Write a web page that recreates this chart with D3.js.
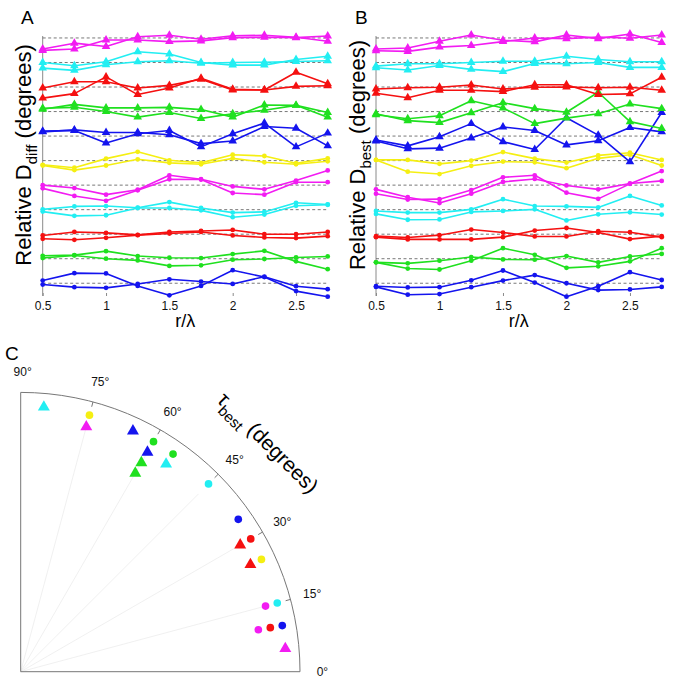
<!DOCTYPE html>
<html>
<head>
<meta charset="utf-8">
<script src="https://cdn.jsdelivr.net/npm/d3@7.9.0/dist/d3.min.js"></script>
<style>
    html, body { margin: 0; background: #fff; }
    svg { display: block; font-family: "Liberation Sans", Arial, Helvetica, sans-serif; }
</style>
</head>
<body>
<svg id="fig" width="675" height="686"></svg>
<script>
// r/lambda samples and ticks (panels A, B)
var R_LAMBDA = [0.5, 0.75, 1, 1.25, 1.5, 1.75, 2, 2.25, 2.5, 2.75]
var X_TICKS = [0.5, 1, 1.5, 2, 2.5]

// groups, bottom to top: [colour, marker]
var GROUP_COLOR = ['blue', 'green', 'red', 'cyan', 'magenta', 'yellow', 'blue', 'green', 'red', 'cyan', 'magenta']
var GROUP_MARK = ['circ', 'circ', 'circ', 'circ', 'circ', 'circ', 'tri', 'tri', 'tri', 'tri', 'tri']
var GROUP_STEP = 25 // offset between stacked groups (deg)

// Panel A: relative D_diff, two curves per group
var DIFF_BLUE_CIRC = [[2.7, 10.3, 10, -2.7, -12.3, -2.7, 13.3, 6.3, -8, -13.7], [-1.3, -4, -4.7, -0.7, 4, 1.7, -0.7, 6.7, -3, -6]]
var DIFF_GREEN_CIRC = [[3, 3.7, 7.7, 2.7, 1, 0.7, 4.7, 8, -2.7, -10.7], [0.7, 3.3, 0, -1.7, -7.3, -6.7, -1, -0.3, 1.3, 2.3]]
var DIFF_RED_CIRC = [[-1.3, 2.3, 1.3, -0.7, 2.3, 3.3, 4.3, 0, 0, 2.3], [-4.7, -5.7, -3.7, -1, 0.7, 2.3, -1.3, -3.3, -4, -2]]
var DIFF_CYAN_CIRC = [[0.3, 3.3, 3.7, 2, 7.7, 1.7, -3, -2.3, 7, 5.3], [-2, -6.3, -5.7, 1.7, 1.7, -0.7, -7.7, -5, 4, 5]]
var DIFF_MAGENTA_CIRC = [[0, -3, -9.7, -4.7, 10, 6, -1.3, -4.3, 4.7, 15], [-3.3, -11, -16, -5.3, 6, 5.7, -8, -9.7, 3, 3]]
var DIFF_YELLOW_CIRC = [[-4.3, -7.3, 2, 9, 0.3, -2.3, 6, 4.7, -2.7, 2.3], [-5, -9.7, -5, 1.3, -2.3, -3.7, 2.3, -1.7, -3.7, -0.7]]
var DIFF_BLUE_TRI = [[5, 5.7, -7, 2.3, 5.7, -11, 2.3, 13.3, -11, 3], [4.3, 6.3, 3.7, 3.7, 1.3, -7.7, -5, 9.7, 8, -10]]
var DIFF_GREEN_TRI = [[2.3, 7.3, 3.7, 3.7, 4.3, 2, -5.7, 6.7, 6.3, -5.7], [3.3, 4.3, 0, -5.7, -1, -7, -2.3, 1.3, 6.3, -1]]
var DIFF_RED_TRI = [[-1, 5.3, 5.3, -1, 1.7, 8, -3, -3, 15, 3.3], [-11.3, -6.7, 10.3, -7.7, -1, 9, -2.3, -3, 0.7, 1.3]]
var DIFF_CYAN_TRI = [[0, -3.3, 0.7, 11, 8.7, 0, -2.7, -2.7, 3, 6.3], [-5.7, -8, -2.3, 0.7, 1.7, -0.7, 0, 0.3, 1, 1.7]]
var DIFF_MAGENTA_TRI = [[-11.3, -5.3, -8.7, 1.3, 2.7, -1.3, 2.3, 2.7, 0.7, -3.3], [-12.7, -11.3, -2, -2, -3.7, -3, 0.3, 0.7, 0.3, 2]]

// Panel B: relative D_best
var BEST_BLUE_CIRC = [[-3, -4.3, -4, 3, 13, 0.7, -13.7, -3, 11.3, 3.3], [-3.7, -11.7, -11, -4, 2.7, 8.3, 0, -7, -6.3, -3.7]]
var BEST_GREEN_CIRC = [[-3.7, -10, -11, -2, 10.7, 4, -9.3, -7.7, -2.7, 10.7], [-3.7, -4.7, -2, 1.7, -0.7, -1, 2.7, -3.7, 2.3, 5]]
var BEST_RED_CIRC = [[-2, -3.3, -1, 4.7, 1.7, -2.3, -2.3, 3, 2, -3], [-3, -5.3, -5.3, -5.3, -3, 3.7, 6.3, 1.7, -5, -2]]
var BEST_CYAN_CIRC = [[-1.3, -3, -3, 0.3, 10.7, 3.7, 3.3, 2.3, 14, 4.3], [-4.3, -10.3, -10, -2.3, -1.3, 0.3, -11, -4.7, -2.7, -5]]
var BEST_MAGENTA_CIRC = [[-4.3, -12.3, -18.3, -8.7, 3.3, 6.3, -0.3, -4.3, 1.7, 4.3], [-8.7, -14.7, -14.3, -5, 8, 10, -7.7, -14, 1.3, 14.3]]
var BEST_YELLOW_CIRC = [[0.7, 0.7, -3.3, 0, 8.7, 2, -2, 5.3, 8, 0.7], [0.7, -11.3, -13.7, -5.3, -1, -1.7, -7.7, 2.3, 6, -5]]
var BEST_BLUE_TRI = [[-4, -10, -0.7, 12.7, -5.7, -13.7, 18.7, 1, -26.3, 24], [-5, -13, -12.3, -2, 9.3, 5.7, -9, -4.7, 8.7, 4.3]]
var BEST_GREEN_TRI = [[-2.3, -9.3, -11.3, -1.3, 9, 3, -0.7, 19.7, -10.3, -17.3], [-3.3, -7.3, -4.3, 11, 3.7, -12.3, -6.7, -2.3, 7.7, 3]]
var BEST_RED_TRI = [[-2, -0.7, -0.3, 2, -2, -0.3, 0, -0.7, -0.3, -3.3], [-6.3, -11, -3.3, -3.3, -4.7, 2.3, 2.3, -7.7, -7, 10]]
var BEST_CYAN_TRI = [[-3.7, -1.3, -1.3, 0, 1.3, 1.3, 6.3, 3, 0.7, 0.7], [-5.3, -7.7, -3, -7, -9.3, -1, -1.3, 0, -5, -5]]
var BEST_MAGENTA_TRI = [[-11.3, -10.3, -3.3, 3, -2.3, -4, 3, -0.7, 4, -4.7], [-13, -13.7, -9.3, -7.7, -3.7, 0, -0.7, 1, -0.3, 3]]

// Panel C: tau_best (degrees); points sharing an angle are stacked inward in list order
var C_ANGLE = [85, 75, 75, 65, 60, 60, 60, 60, 55, 55, 45, 35, 30, 30, 25, 25, 15, 15, 10, 10, 10, 5]
var C_COLOR = ['cyan', 'yellow', 'magenta', 'blue', 'green', 'blue', 'green', 'green', 'green', 'cyan', 'cyan',
    'blue', 'red', 'red', 'yellow', 'red', 'cyan', 'magenta', 'blue', 'red', 'magenta', 'magenta']
var C_MARK = ['tri', 'circ', 'tri', 'tri', 'circ', 'tri', 'tri', 'tri', 'circ', 'tri', 'circ',
    'circ', 'circ', 'tri', 'circ', 'tri', 'circ', 'circ', 'circ', 'circ', 'circ', 'tri']
var C_TICKS = [0, 15, 30, 45, 60, 75, 90]

;(function () {
    var COLORS = {
        blue: '#1414ee',
        green: '#1fe01f',
        red: '#f51010',
        cyan: '#22eef2',
        magenta: '#f21cf2',
        yellow: '#f5ef12',
    }
    var AXIS = '#8a8a8a'

    var svg = d3.select('#fig')

    function symbolFor(mark, big) {
        if (mark === 'tri') return d3.symbol().type(d3.symbolTriangle).size(big ? 62 : 32)()
        return d3.symbol().type(d3.symbolCircle).size(big ? 46 : 18)()
    }

    function drawPanel(opts) {
        var x = d3.scaleLinear().domain([0.5, 2.75]).range([opts.x0, opts.x1])
        var y = d3.scaleLinear().domain([-13, 252]).range([296, 36])
        var g = svg.append('g')

        // left spine
        g.append('line')
            .attr('x1', opts.x0).attr('x2', opts.x0)
            .attr('y1', y.range()[1]).attr('y2', y.range()[0])
            .attr('stroke', AXIS).attr('stroke-width', 1)

        // x ticks and labels
        var ax = d3.axisBottom(x).tickValues(X_TICKS).tickSizeInner(-3).tickSizeOuter(0).tickPadding(5)
            .tickFormat(function (d) { return String(d) })
        var axg = g.append('g').attr('transform', 'translate(0,296)').call(ax)
        axg.select('.domain').remove()
        axg.selectAll('line').attr('stroke', AXIS)
        axg.selectAll('text').attr('font-size', 12).attr('fill', '#111')
            .attr('font-family', '"Liberation Sans", Arial, sans-serif')

        // dashed baselines
        g.selectAll('line.base')
            .data(GROUP_COLOR.map(function (c, i) { return i * GROUP_STEP }))
            .join('line')
            .attr('class', 'base')
            .attr('x1', opts.x0).attr('x2', opts.x1)
            .attr('y1', function (d) { return y(d) }).attr('y2', function (d) { return y(d) })
            .attr('stroke', '#555').attr('stroke-width', 0.8).attr('stroke-dasharray', '3,2.5')

        var line = d3.line()
            .x(function (d, i) { return x(R_LAMBDA[i]) })
            .y(function (d) { return y(d) })

        opts.series.forEach(function (pair, gi) {
            var off = gi * GROUP_STEP
            var col = COLORS[GROUP_COLOR[gi]]
            pair.forEach(function (vals) {
                var pts = vals.map(function (v) { return v + off })
                g.append('path')
                    .attr('d', line(pts))
                    .attr('fill', 'none')
                    .attr('stroke', col)
                    .attr('stroke-width', 1.6)
                    .attr('stroke-linejoin', 'round')
                g.selectAll(null)
                    .data(pts)
                    .join('path')
                    .attr('d', symbolFor(GROUP_MARK[gi], false))
                    .attr('transform', function (d, i) {
                        return 'translate(' + x(R_LAMBDA[i]) + ',' + y(d) + ')'
                    })
                    .attr('fill', col)
            })
        })

        // labels
        g.append('text')
            .attr('x', (opts.x0 + opts.x1) / 2).attr('y', 327)
            .attr('text-anchor', 'middle').attr('font-size', 18)
            .text('r/\u03bb')

        var yl = g.append('text')
            .attr('transform', 'translate(' + opts.labelX + ',155) rotate(-90)')
            .attr('text-anchor', 'middle').attr('font-size', 22)
        yl.append('tspan').text('Relative D')
        yl.append('tspan').attr('font-size', 15).attr('dy', 6).text(opts.sub)
        yl.append('tspan').attr('dy', -6).text(' (degrees)')

        g.append('text')
            .attr('x', opts.letterX).attr('y', 24)
            .attr('font-size', 19)
            .text(opts.letter)
    }

    drawPanel({
        x0: 42.7, x1: 327.7, labelX: 31, letterX: 21, letter: 'A', sub: 'diff',
        series: [DIFF_BLUE_CIRC, DIFF_GREEN_CIRC, DIFF_RED_CIRC, DIFF_CYAN_CIRC, DIFF_MAGENTA_CIRC, DIFF_YELLOW_CIRC,
            DIFF_BLUE_TRI, DIFF_GREEN_TRI, DIFF_RED_TRI, DIFF_CYAN_TRI, DIFF_MAGENTA_TRI],
    })
    drawPanel({
        x0: 376, x1: 661.7, labelX: 365, letterX: 355, letter: 'B', sub: 'best',
        series: [BEST_BLUE_CIRC, BEST_GREEN_CIRC, BEST_RED_CIRC, BEST_CYAN_CIRC, BEST_MAGENTA_CIRC, BEST_YELLOW_CIRC,
            BEST_BLUE_TRI, BEST_GREEN_TRI, BEST_RED_TRI, BEST_CYAN_TRI, BEST_MAGENTA_TRI],
    })

    // ---- Panel C: quarter polar plot ----
    var cx = 20.7, cy = 671.7, R = 279.3
    var ang = d3.scaleLinear().domain([0, 90]).range([0, Math.PI / 2])
    var rad = d3.scaleLinear().domain([0, 1]).range([0, R])
    function px(a, r) { return cx + rad(r) * Math.cos(ang(a)) }
    function py(a, r) { return cy - rad(r) * Math.sin(ang(a)) }

    var pg = svg.append('g')

    // faint spokes
    pg.selectAll('line.spoke')
        .data([15, 30, 45, 60, 75])
        .join('line')
        .attr('x1', cx).attr('y1', cy)
        .attr('x2', function (d) { return px(d, 0.9) })
        .attr('y2', function (d) { return py(d, 0.9) })
        .attr('stroke', '#ececec').attr('stroke-width', 0.8)

    // frame: two radii and the arc
    var arc = d3.path()
    arc.moveTo(cx, cy - R)
    arc.lineTo(cx, cy)
    arc.lineTo(cx + R, cy)
    arc.arc(cx, cy, R, 0, -Math.PI / 2, true)
    pg.append('path').attr('d', arc.toString())
        .attr('fill', 'none').attr('stroke', '#777').attr('stroke-width', 1)

    pg.selectAll('line.tick')
        .data([15, 30, 45, 60, 75])
        .join('line')
        .attr('x1', function (d) { return px(d, 1) }).attr('y1', function (d) { return py(d, 1) })
        .attr('x2', function (d) { return px(d, 0.982) }).attr('y2', function (d) { return py(d, 0.982) })
        .attr('stroke', '#777').attr('stroke-width', 1)

    pg.selectAll('text.tl')
        .data(C_TICKS)
        .join('text')
        .attr('x', function (d) { return px(d, 1.073) + 2 })
        .attr('y', function (d) { return py(d, 1.073) })
        .attr('text-anchor', 'middle').attr('dominant-baseline', 'central')
        .attr('font-size', 12).attr('fill', '#111')
        .text(function (d) { return d + '\u00b0' })

    // stack points that share an angle
    var seen = {}
    var pts = C_ANGLE.map(function (a, i) {
        var k = seen[a] || 0
        seen[a] = k + 1
        return { a: a, level: k, color: C_COLOR[i], mark: C_MARK[i] }
    })
    pg.selectAll('path.pt')
        .data(pts)
        .join('path')
        .attr('d', function (d) { return symbolFor(d.mark, true) })
        .attr('transform', function (d) {
            var r = 0.951 - 0.0435 * d.level
            return 'translate(' + px(d.a, r) + ',' + py(d.a, r) + ')'
        })
        .attr('fill', function (d) { return COLORS[d.color] })

    var tt = pg.append('text')
        .attr('transform', 'translate(216,401) rotate(45)')
        .attr('font-size', 21)
    tt.append('tspan').text('\u03c4')
    tt.append('tspan').attr('font-size', 15).attr('dy', 7).text('best')
    tt.append('tspan').attr('dy', -7).text(' (degrees)')

    svg.append('text').attr('x', 5).attr('y', 360).attr('font-size', 19).text('C')
})()
</script>
</body>
</html>
